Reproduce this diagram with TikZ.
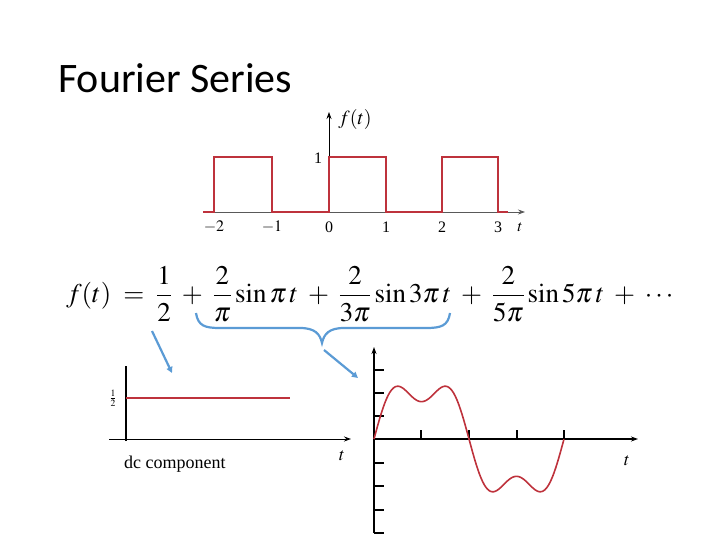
\documentclass[tikz,border=0pt]{standalone}
\usepackage{amsmath}
\usepackage{mathptmx}
\usepackage{fontspec}
\setmainfont{Liberation Serif}
\newfontfamily\titlefont{Carlito}
\usetikzlibrary{arrows.meta}
\definecolor{wred}{RGB}{190,50,60}
\definecolor{wblue}{RGB}{91,155,213}
\tikzset{ax/.style={line width=1pt,-{Stealth[length=7pt,width=5pt]}},
 sig/.style={wred,line width=1.6pt},
 call/.style={wblue,line width=2.2pt,-{Triangle[length=6pt,width=6pt]}},
 lab/.style={font=\fontsize{16}{18}\selectfont,inner sep=0pt}}
\begin{document}
\begin{tikzpicture}[x=1pt,y=-1pt]
\useasboundingbox (0,0) rectangle (720,540);
\node[anchor=base west,inner sep=0pt,font=\titlefont\fontsize{42}{48}\selectfont] (title) at (58,93) {Fourier Series};
% top graph
\draw[ax,gray!70!black,line width=0.8pt] (203,212) -- (525,212);
\draw[ax,line width=0.8pt] (329,212) -- (329,112);
\draw[sig] (203,212) -- (214,212) -- (214,157) -- (272,157) -- (272,212) -- (329,212) -- (329,157) -- (386,157) -- (386,212) -- (442,212) -- (442,157) -- (498,157) -- (498,212) -- (508,212);
\foreach \x/\l in {214/$-2$,272/$-1$,329/0,386/1,442/2,498/3}
  \node[lab] (tk\x) at (\x,227) {\l};
\node[lab] (tt) at (520,227) {$t$};
\node[lab] (one) at (318,158) {1};
\node[lab,font=\fontsize{20}{22}\selectfont] (ft) at (355,120) {$f(t)$};
% equation
\node[anchor=west,inner sep=0pt,font=\fontsize{27}{32}\selectfont] (eq) at (66,294)
 {$f(t)\;=\;\dfrac{1}{2}\;+\;\dfrac{2}{\pi}\sin\pi\, t\;+\;\dfrac{2}{3\pi}\sin 3\pi\, t\;+\;\dfrac{2}{5\pi}\sin 5\pi\, t\;+\;\cdots$};
% brace and arrows
\draw[wblue,line width=2.2pt] (196,313) .. controls (198,326) and (205,328) .. (220,328) -- (300,328) .. controls (315,328) and (320,334) .. (322,343) .. controls (324,334) and (329,328) .. (344,328) -- (426,328) .. controls (441,328) and (448,326) .. (450,313);
\coordinate (b1) at (152,331); \coordinate (e1) at (172,373);
\coordinate (b2) at (324,350); \coordinate (e2) at (358,378);
\draw[call] (b1) -- (e1);
\draw[call] (b2) -- (e2);
% dc graph
\draw[line width=1.2pt] (126,441) -- (126,366);
\draw[ax] (109,439) -- (351,439);
\draw[sig] (126,398) -- (290,398);
\node[lab,font=\fontsize{13}{13}\selectfont] (half) at (113,398) {$\frac12$};
\node[lab,anchor=west,font=\fontsize{18}{20}\selectfont] (dc) at (124,464) {dc component};
\node[lab,font=\fontsize{18}{20}\selectfont] (tdc) at (342,456) {$t$};
% component graph
\draw[ax,line width=1.2pt] (374,533) -- (374,347);
\draw[ax,line width=1.2pt] (374,439) -- (638,439);
\foreach \y in {370,393,416,463,486,510,533} \draw[line width=1.2pt] (374,\y) -- (384,\y);
\foreach \x in {421,469,517,564} \draw[line width=1.2pt] (\x,439) -- (\x,430);
\draw[sig,domain=0:2,samples=120,smooth] plot ({374+95*\x},{439-56*(sin(180*\x)+sin(540*\x)/3)});
\node[lab,font=\fontsize{18}{20}\selectfont] (tc) at (627,461) {$t$};
\end{tikzpicture}
\end{document}
